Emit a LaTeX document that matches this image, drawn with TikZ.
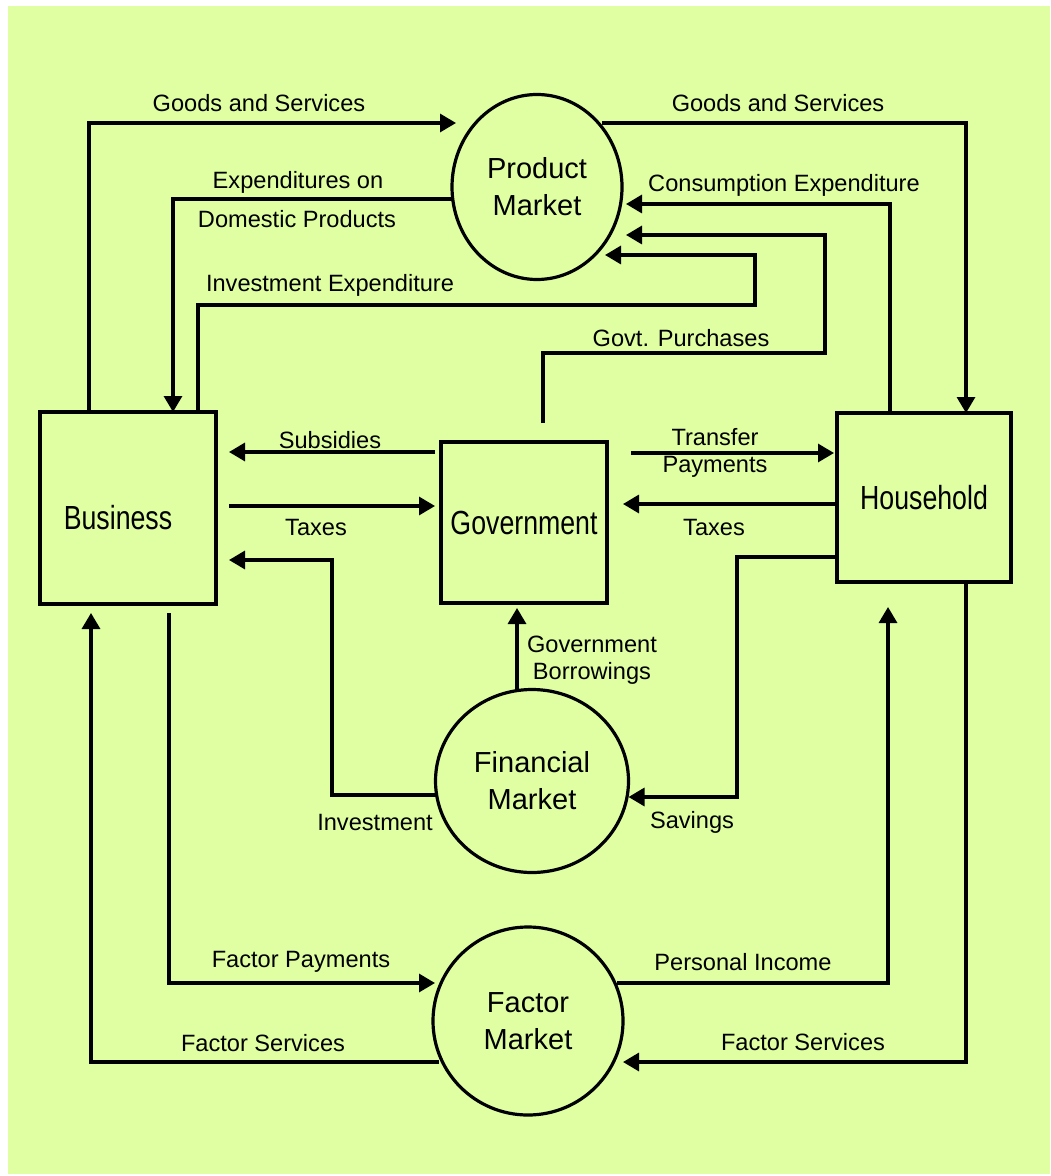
\documentclass[tikz,border=0pt]{standalone}
\usepackage{fontspec}
\setmainfont{Liberation Sans}
\newfontfamily\boxfont{Liberation Sans}[FakeStretch=0.8]
\usetikzlibrary{shapes.geometric,arrows.meta,calc}
\definecolor{paleyellow}{HTML}{DFFFA2}

\tikzset{
  box/.style={draw,line width=2pt,inner sep=0pt,outer sep=0pt,font=\boxfont\fontsize{16.7}{20}\selectfont},
  market/.style={draw,ellipse,line width=1.6pt,inner sep=0pt,outer sep=0pt,align=center,font=\fontsize{14.5}{18.5}\selectfont},
  flow/.style={line width=1.6pt,-{Triangle[length=8pt,width=9pt]}},
  lbl/.style={inner sep=0pt,align=center,font=\fontsize{11.8}{13.5}\selectfont}
}

\begin{document}
\begin{tikzpicture}[x=0.5pt,y=-0.5pt]
		\useasboundingbox (0,0) rectangle (1050,1176);
		\fill[white] (0,0) rectangle (1050,1176);
		\fill[paleyellow] (8,6) rectangle (1050,1174);

		% sectors and markets
		\node[box,minimum width=88pt,minimum height=96pt,text height=22pt] (bus) at (128,508) {\kern-10pt Business};
		\node[box,minimum width=83pt,minimum height=80.5pt] (gov) at (524,522.5) {Government};
		\node[box,minimum width=87pt,minimum height=84.5pt] (hh) at (924,497.5) {Household};
		\node[market,minimum width=85pt,minimum height=92.5pt] (pm) at (537,187) {Product\\Market};
		\node[market,minimum width=96.5pt,minimum height=91.5pt] (fin) at (532,781) {Financial\\Market};
		\node[market,minimum width=95pt,minimum height=94pt] (fm) at (528,1021) {Factor\\Market};

		% product market flows
		\draw[flow] ($(bus.north west)+(49,0)$) |- ($(pm.west)+(4,-64)$);
		\draw[flow] ($(pm.east)+(-20,-64)$) -| ($(hh.north east)+(-45,0)$);
		\draw[flow] ($(hh.north west)+(53,0)$) |- ($(pm.east)+(4,17)$);
		\draw[flow] ($(gov.north)+(19,-19)$) |- (825,353) |- ($(pm.east)+(4,48)$);
		\draw[flow] ($(bus.north east)+(-18,0)$) |- (755,305) |- ($(pm.east)+(-17,68)$);
		\draw[flow] ($(pm.west)+(0,12)$) -| ($(bus.north)+(45,0)$);

		% government flows
		\draw[flow] ($(gov.north west)+(-6,10)$) -- ($(bus.north east)+(13,40)$);
		\draw[flow] ($(bus.east)+(13,-2)$) -- ($(gov.west)+(-6,-16.5)$);
		\draw[flow] ($(gov.north east)+(24,11)$) -- ($(hh.west)+(-3,-44.5)$);
		\draw[flow] ($(hh.west)+(0,6.5)$) -- ($(gov.east)+(16,-18.5)$);

		% financial market flows
		\draw[flow] ($(hh.west)+(0,59.5)$) -| (737,797) -- ($(fin.east)+(0,16)$);
		\draw[flow] ($(fin.west)+(0,14)$) -| (332,560) -- ($(bus.east)+(13,52)$);
		\draw[flow] ($(fin.north)+(-15,0)$) -- ($(gov.south)+(-7,5)$);

		% factor market flows
		\draw[flow] ($(bus.south)+(41,9)$) |- ($(fm.west)+(2,-38)$);
		\draw[flow] ($(fm.east)+(-6,-38)$) -| ($(hh.south)+(-36,25)$);
		\draw[flow] ($(hh.south east)+(-45,0)$) |- ($(fm.east)+(0,41)$);
		\draw[flow] ($(fm.west)+(6,41)$) -| ($(bus.south west)+(51,9)$);

		% labels
		\node[lbl] (l-gs1) at (259,103) {Goods and Services};
		\node[lbl] (l-gs2) at (778,103) {Goods and Services};
		\node[lbl] (l-exp1) at (298,182) {Expenditures on};
		\node[lbl] (l-exp2) at (297,219) {Domestic Products};
		\node[lbl] (l-cons) at (784,185) {Consumption Expenditure};
		\node[lbl] (l-inv1) at (330,285) {Investment Expenditure};
		\node[lbl] (l-govp) at (681,338) {Govt. Purchases};
		\node[lbl] (l-subs) at (330,440) {Subsidies};
		\node[lbl] (l-tax1) at (316,527) {Taxes};
		\node[lbl] (l-trans) at (715,453) {Transfer\\Payments};
		\node[lbl] (l-tax2) at (714,527) {Taxes};
		\node[lbl] (l-borr) at (592,660) {Government\\Borrowings};
		\node[lbl] (l-inv2) at (375,822) {Investment};
		\node[lbl] (l-sav) at (692,822) {Savings};
		\node[lbl] (l-fpay) at (301,962) {Factor Payments};
		\node[lbl] (l-pinc) at (743,962) {Personal Income};
		\node[lbl] (l-fs1) at (263,1043) {Factor Services};
		\node[lbl] (l-fs2) at (803,1042) {Factor Services};
	\end{tikzpicture}
\end{document}
